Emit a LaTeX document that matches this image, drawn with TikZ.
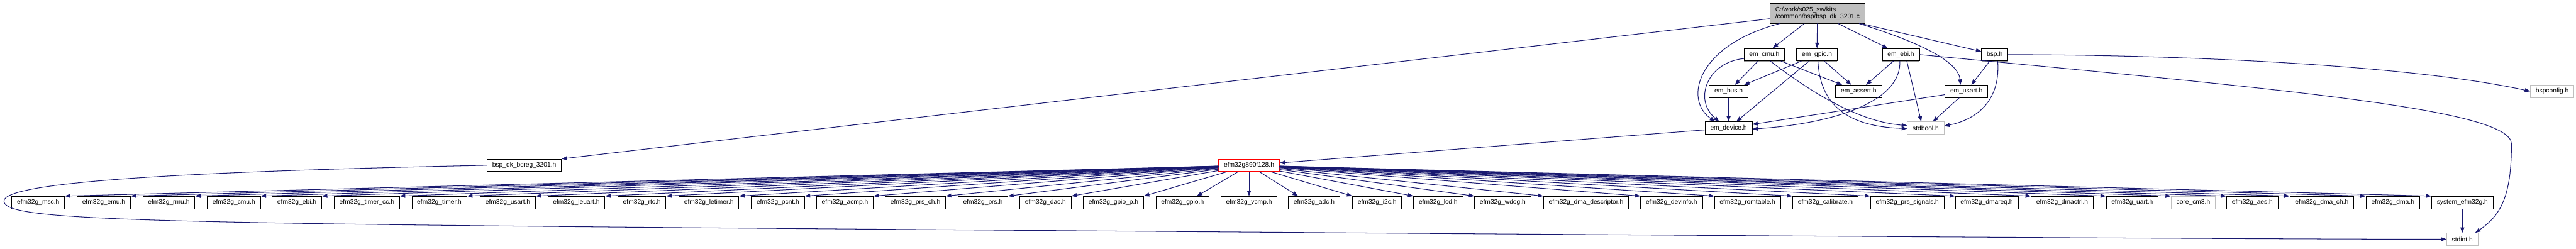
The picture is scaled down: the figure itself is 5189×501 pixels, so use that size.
\documentclass[tikz,border=0pt]{standalone}
\usepackage{fontspec}
\setmainfont{Liberation Sans}
\usetikzlibrary{arrows.meta,shadows}
\definecolor{edgeblue}{HTML}{191970}
\definecolor{boxgray}{HTML}{BFBFBF}
\begin{document}
\begin{tikzpicture}[x=1pt,y=1pt,
  hdrbase/.style={fill=white,line width=1pt,inner xsep=10.5pt,inner ysep=0pt,minimum height=25pt,font=\fontsize{13}{15}\selectfont},
  hdr/.style={hdrbase,draw=black,drop shadow={shadow xshift=0pt,shadow yshift=-1.5pt,fill=black!70,opacity=.6}},
  sysinc/.style={hdrbase,draw=boxgray,drop shadow={shadow xshift=0pt,shadow yshift=-1.5pt,fill=black!30,opacity=.5}},
  trunc/.style={hdrbase,draw=red},
  mainfile/.style={hdrbase,draw=black,fill=boxgray,align=left,minimum height=40pt,drop shadow={shadow xshift=0pt,shadow yshift=-1.5pt,fill=black!70,opacity=.6}},
  incl/.style={draw=edgeblue,line width=1.3pt,-{Triangle[length=11pt,width=8pt]}}]
\useasboundingbox (0,0) rectangle (5189,-501);
\node[mainfile] (main) at (3661,-27) {C:/work/s025\_sw/kits\\/common/bsp/bsp\_dk\_3201.c};
\node[hdr] (emcmu) at (3554,-110) {em\_cmu.h};
\node[hdr] (emgpio) at (3660,-110) {em\_gpio.h};
\node[hdr] (emebi) at (3829,-110) {em\_ebi.h};
\node[hdr] (bsph) at (4018,-110) {bsp.h};
\node[hdr] (embus) at (3482,-184) {em\_bus.h};
\node[hdr] (emassert) at (3744,-184) {em\_assert.h};
\node[hdr] (emusart) at (3961,-184) {em\_usart.h};
\node[sysinc] (bspconfig) at (5141,-184) {bspconfig.h};
\node[hdr] (emdevice) at (3482,-258) {em\_device.h};
\node[sysinc] (stdbool) at (3879,-258) {stdbool.h};
\node[hdr] (bcreg) at (1056,-333) {bsp\_dk\_bcreg\_3201.h};
\node[trunc] (efmdev) at (2516,-333) {efm32g890f128.h};
\node[hdr] (msc) at (77,-408) {efm32g\_msc.h};
\node[hdr] (emu) at (209,-408) {efm32g\_emu.h};
\node[hdr] (rmu) at (340,-408) {efm32g\_rmu.h};
\node[hdr] (cmu) at (471,-408) {efm32g\_cmu.h};
\node[hdr] (ebi) at (598,-408) {efm32g\_ebi.h};
\node[hdr] (timercc) at (739,-408) {efm32g\_timer\_cc.h};
\node[hdr] (timer) at (885,-408) {efm32g\_timer.h};
\node[hdr] (usart) at (1023,-408) {efm32g\_usart.h};
\node[hdr] (leuart) at (1161,-408) {efm32g\_leuart.h};
\node[hdr] (rtc) at (1293,-408) {efm32g\_rtc.h};
\node[hdr] (letimer) at (1428,-408) {efm32g\_letimer.h};
\node[hdr] (pcnt) at (1567,-408) {efm32g\_pcnt.h};
\node[hdr] (acmp) at (1702,-408) {efm32g\_acmp.h};
\node[hdr] (prsch) at (1844,-408) {efm32g\_prs\_ch.h};
\node[hdr] (prs) at (1980,-408) {efm32g\_prs.h};
\node[hdr] (dac) at (2106,-408) {efm32g\_dac.h};
\node[hdr] (gpiop) at (2243,-408) {efm32g\_gpio\_p.h};
\node[hdr] (gpio) at (2382,-408) {efm32g\_gpio.h};
\node[hdr] (vcmp) at (2516,-408) {efm32g\_vcmp.h};
\node[hdr] (adc) at (2647,-408) {efm32g\_adc.h};
\node[hdr] (itwoc) at (2774,-408) {efm32g\_i2c.h};
\node[hdr] (lcd) at (2897,-408) {efm32g\_lcd.h};
\node[hdr] (wdog) at (3027,-408) {efm32g\_wdog.h};
\node[hdr] (dmadesc) at (3195,-408) {efm32g\_dma\_descriptor.h};
\node[hdr] (devinfo) at (3367,-408) {efm32g\_devinfo.h};
\node[hdr] (romtable) at (3520,-408) {efm32g\_romtable.h};
\node[hdr] (calibrate) at (3677,-408) {efm32g\_calibrate.h};
\node[hdr] (prssig) at (3842,-408) {efm32g\_prs\_signals.h};
\node[hdr] (dmareq) at (4002,-408) {efm32g\_dmareq.h};
\node[hdr] (dmactrl) at (4154,-408) {efm32g\_dmactrl.h};
\node[hdr] (uart) at (4295,-408) {efm32g\_uart.h};
\node[sysinc] (corecm) at (4418,-408) {core\_cm3.h};
\node[hdr] (aes) at (4537,-408) {efm32g\_aes.h};
\node[hdr] (dmach) at (4677,-408) {efm32g\_dma\_ch.h};
\node[hdr] (dma) at (4820,-408) {efm32g\_dma.h};
\node[hdr] (sysefm) at (4960,-408) {system\_efm32g.h};
\node[sysinc] (stdint) at (4960,-482) {stdint.h};
\draw[incl] (main) -- (bcreg.north east);
\draw[incl] ([xshift=20pt]main.south west) .. controls (3420,-90) and (3390,-200) .. ([xshift=-27pt]emdevice.north);
\draw[incl] (main) -- (emcmu);
\draw[incl] (main) -- (emgpio);
\draw[incl] (main) -- (emebi);
\draw[incl] ([xshift=-12pt]main.south east) .. controls (3850,-80) and (3945,-120) .. ([xshift=-12pt]emusart.north);
\draw[incl] (main) -- (bsph);
\draw[incl] (emcmu) -- (embus);
\draw[incl] ([yshift=-8pt]emcmu.west) .. controls (3440,-125) and (3410,-200) .. ([xshift=-19pt]emdevice.north);
\draw[incl] (emcmu) -- (emassert);
\draw[incl] ([xshift=12pt]emcmu.south) .. controls (3640,-180) and (3740,-245) .. ([yshift=5pt]stdbool.west);
\draw[incl] (emgpio) -- (embus);
\draw[incl] (emgpio) -- (emdevice);
\draw[incl] (emgpio) -- (emassert);
\draw[incl] ([xshift=2pt]emgpio.south) .. controls (3666,-210) and (3720,-255) .. ([yshift=-1pt]stdbool.west);
\draw[incl] (emebi) -- (emassert);
\draw[incl] ([xshift=-2pt]emebi.south) .. controls (3830,-210) and (3680,-250) .. ([yshift=-2pt]emdevice.east);
\draw[incl] ([xshift=12pt]emebi.south) -- ([xshift=-9pt]stdbool.north);
\draw[incl] (emebi.east) .. controls (4600,-180) and (5059,-220) .. (5059,-290) .. controls (5059,-400) and (5035,-435) .. ([xshift=-6pt]stdint.north east);
\draw[incl] (bsph) -- (emusart);
\draw[incl] ([xshift=6pt]bsph.south) .. controls (4030,-200) and (3985,-240) .. ([yshift=4pt]stdbool.east);
\draw[incl] (bsph.east) .. controls (4500,-111) and (4900,-140) .. (bspconfig.west);
\draw[incl] (embus) -- (emdevice);
\draw[incl] (emusart) -- (emdevice);
\draw[incl] (emusart) -- (stdbool);
\draw[incl] (emdevice) -- (efmdev);
\draw[incl] (bcreg.west) .. controls (400,-345) and (8,-365) .. (8,-405) .. controls (8,-440) and (200,-448) .. (1300,-458) .. controls (3000,-472) and (4500,-482) .. (stdint.west);
\draw[incl] (efmdev) -- (msc.north east);
\draw[incl] (efmdev) -- (emu.north east);
\draw[incl] (efmdev) -- (rmu.north east);
\draw[incl] (efmdev) -- (cmu.north east);
\draw[incl] (efmdev) -- (ebi.north east);
\draw[incl] (efmdev) -- (timercc.north east);
\draw[incl] (efmdev) -- (timer.north east);
\draw[incl] (efmdev) -- (usart.north east);
\draw[incl] (efmdev) -- (leuart.north east);
\draw[incl] (efmdev) -- (rtc.north east);
\draw[incl] (efmdev) -- (letimer.north east);
\draw[incl] (efmdev) -- (pcnt.north east);
\draw[incl] (efmdev) -- (acmp.north east);
\draw[incl] (efmdev) -- (prsch.north east);
\draw[incl] (efmdev) -- (prs.north east);
\draw[incl] (efmdev) -- (dac.north east);
\draw[incl] (efmdev) -- (gpiop.north east);
\draw[incl] (efmdev) -- ([xshift=-25pt]gpio.north east);
\draw[incl] (efmdev) -- (vcmp);
\draw[incl] (efmdev) -- ([xshift=20pt]adc.north west);
\draw[incl] (efmdev) -- (itwoc.north west);
\draw[incl] (efmdev) -- (lcd.north west);
\draw[incl] (efmdev) -- (wdog.north west);
\draw[incl] (efmdev) -- (dmadesc.north west);
\draw[incl] (efmdev) -- (devinfo.north west);
\draw[incl] (efmdev) -- (romtable.north west);
\draw[incl] (efmdev) -- (calibrate.north west);
\draw[incl] (efmdev) -- (prssig.north west);
\draw[incl] (efmdev) -- (dmareq.north west);
\draw[incl] (efmdev) -- (dmactrl.north west);
\draw[incl] (efmdev) -- (uart.north west);
\draw[incl] (efmdev) -- (corecm.north west);
\draw[incl] (efmdev) -- (aes.north west);
\draw[incl] (efmdev) -- (dmach.north west);
\draw[incl] (efmdev) -- (dma.north west);
\draw[incl] (efmdev) -- (sysefm.north west);
\draw[incl] (sysefm) -- (stdint);
\end{tikzpicture}
\end{document}
